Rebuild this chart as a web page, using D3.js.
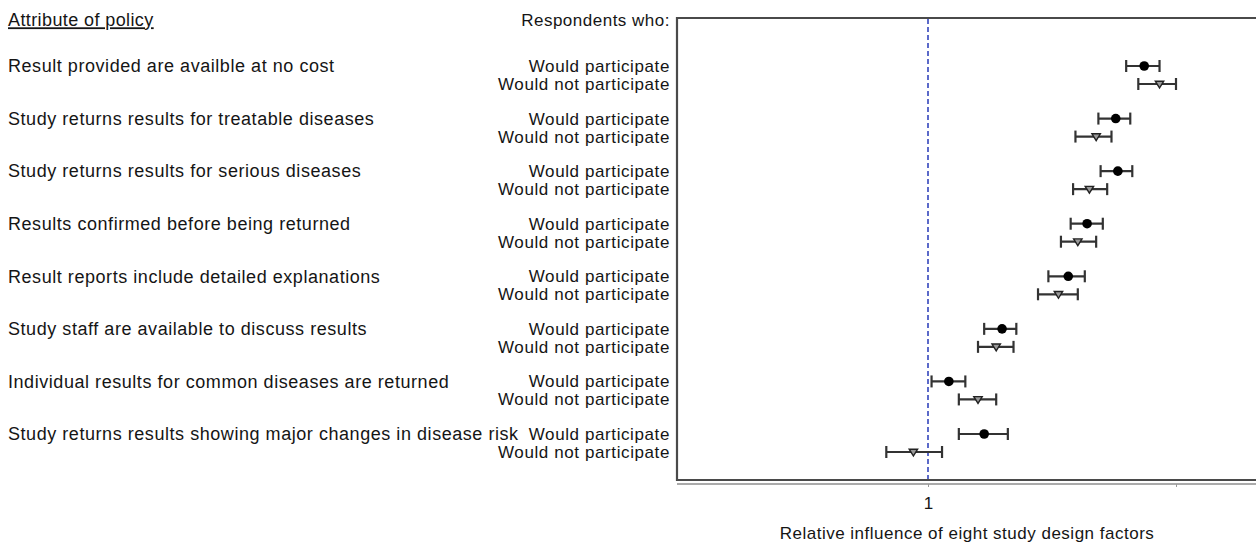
<!DOCTYPE html>
<html><head><meta charset="utf-8">
<script src="https://cdn.jsdelivr.net/npm/d3@7/dist/d3.min.js"></script>
<style>body{margin:0;background:#fff;} text{font-family:"Liberation Sans",Arial,sans-serif;fill:#151515;}</style>
</head><body>
<svg id="c" width="1256" height="544"></svg>
<script>
const attributes = [
  "Result provided are availble at no cost",
  "Study returns results for treatable diseases",
  "Study returns results for serious diseases",
  "Results confirmed before being returned",
  "Result reports include detailed explanations",
  "Study staff are available to discuss results",
  "Individual results for common diseases are returned",
  "Study returns results showing major changes in disease risk"
];
const groups = ["Would participate", "Would not participate"];
// estimates and confidence limits (relative influence)
const partEst = [1.83, 1.69, 1.70, 1.56, 1.48, 1.23, 1.06, 1.17];
const partLo  = [1.74, 1.61, 1.62, 1.49, 1.40, 1.17, 1.01, 1.09];
const partHi  = [1.91, 1.76, 1.77, 1.63, 1.55, 1.28, 1.11, 1.25];
const nonEst  = [1.91, 1.60, 1.57, 1.52, 1.44, 1.21, 1.15, 0.96];
const nonLo   = [1.80, 1.51, 1.50, 1.45, 1.36, 1.15, 1.09, 0.89];
const nonHi   = [2.00, 1.67, 1.65, 1.60, 1.52, 1.27, 1.21, 1.04];
const tickValues = [1, 2];
const tickLabels = ["1", ""];
const refValue = 1;

const svg = d3.select("#c");
const fs = 18, fsG = 17;
const frame = {left: 677, top: 18, right: 1264, bottom: 480};
const x = d3.scaleLog().domain([0.5, 2]).range([680, 1176]);
const y = d3.scalePoint().domain(attributes).range([66, 434]);
const dy = d3.scalePoint().domain(groups).range([0, 18]);

// headers
svg.append("text").attr("x", 8).attr("y", 20).attr("dy", "0.35em")
  .attr("font-size", fs).attr("letter-spacing", 0.4).attr("text-decoration", "underline").text("Attribute of policy");
svg.append("text").attr("x", 670).attr("y", 20).attr("dy", "0.35em").attr("text-anchor", "end")
  .attr("font-size", fsG).attr("letter-spacing", 0.5).text("Respondents who:");

// attribute labels
svg.selectAll("text.attr").data(attributes).join("text").attr("class", "attr")
  .attr("x", 8).attr("y", d => y(d)).attr("dy", "0.35em").attr("font-size", fs)
  .attr("letter-spacing", 0.55).text(d => d);

// group labels
attributes.forEach(a => {
  groups.forEach(g => {
    svg.append("text").attr("x", 670).attr("y", y(a) + dy(g)).attr("dy", "0.35em")
      .attr("text-anchor", "end").attr("font-size", fsG).attr("letter-spacing", 0.6).text(g);
  });
});

// axis (light double line)
const axisG = svg.append("g").attr("transform", `translate(0,${frame.bottom + 4})`)
  .call(d3.axisBottom(x).tickValues(tickValues).tickFormat((d, i) => tickLabels[i]).tickSize(3).tickPadding(10));
axisG.select(".domain").attr("stroke", "#aaa").attr("stroke-width", 2).attr("d", `M${frame.left},0H${frame.right}`);
axisG.selectAll(".tick line").attr("stroke", "#999");
axisG.selectAll(".tick text").attr("font-size", fsG).attr("fill", "#151515");

// frame
svg.append("path").attr("d", `M${frame.right},${frame.top}H${frame.left}V${frame.bottom}H${frame.right}`)
  .attr("fill", "none").attr("stroke", "#4a4a4a").attr("stroke-width", 2.2);

// reference line
svg.append("line").attr("x1", x(refValue)).attr("x2", x(refValue))
  .attr("y1", frame.top + 1).attr("y2", frame.bottom - 1)
  .attr("stroke", "#4a5ac4").attr("stroke-width", 1.8).attr("stroke-dasharray", "5,3");

// x title
svg.append("text").attr("x", 967).attr("y", 533).attr("dy", "0.35em").attr("text-anchor", "middle")
  .attr("font-size", fsG).attr("letter-spacing", 0.5).text("Relative influence of eight study design factors");

// error bars
const rows = [];
attributes.forEach((a, i) => {
  rows.push({a, g: groups[0], est: partEst[i], lo: partLo[i], hi: partHi[i]});
  rows.push({a, g: groups[1], est: nonEst[i], lo: nonLo[i], hi: nonHi[i]});
});
const cap = 6;
const eb = svg.append("g").attr("stroke", "#333").attr("stroke-width", 2.2).attr("fill", "none");
rows.forEach(r => {
  const yy = y(r.a) + dy(r.g);
  eb.append("line").attr("x1", x(r.lo)).attr("x2", x(r.hi)).attr("y1", yy).attr("y2", yy);
  eb.append("line").attr("x1", x(r.lo)).attr("x2", x(r.lo)).attr("y1", yy - cap).attr("y2", yy + cap);
  eb.append("line").attr("x1", x(r.hi)).attr("x2", x(r.hi)).attr("y1", yy - cap).attr("y2", yy + cap);
});
// markers
rows.forEach(r => {
  const yy = y(r.a) + dy(r.g);
  if (r.g === groups[0]) {
    svg.append("circle").attr("cx", x(r.est)).attr("cy", yy).attr("r", 4.8).attr("fill", "#000");
  } else {
    svg.append("path").attr("transform", `translate(${x(r.est)},${yy})`)
      .attr("d", "M-4.2,-2.8L4.2,-2.8L0,4Z").attr("fill", "#999").attr("stroke", "#222").attr("stroke-width", 1.4);
  }
});
</script>
</body></html>
